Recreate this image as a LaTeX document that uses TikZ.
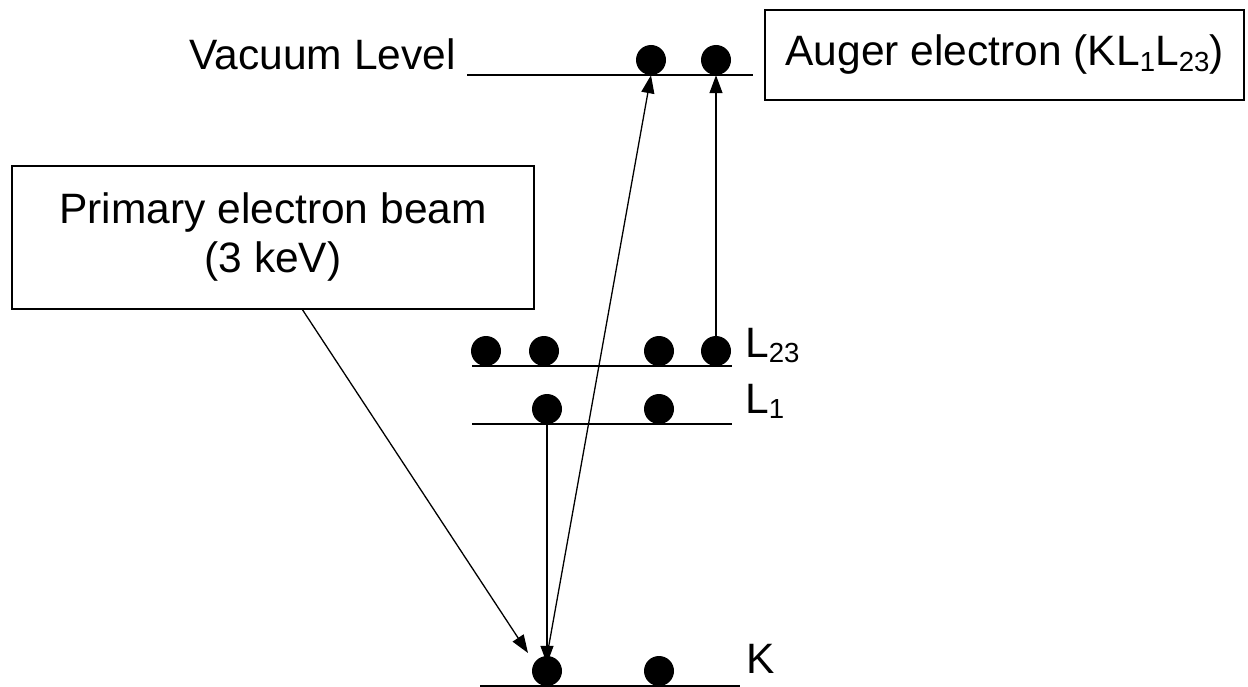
\documentclass[tikz,border=0pt]{standalone}
\usepackage{fontspec}
\setmainfont{Liberation Sans}
\usetikzlibrary{arrows.meta}
\newcommand{\subs}[1]{\raisebox{-0.12em}{\fontsize{27.6}{30}\selectfont #1}}
\tikzset{
  electron/.style={circle, fill=black, minimum size=30pt, inner sep=0pt},
  level/.style={line width=1.8pt},
  lbl/.style={inner sep=0pt, font=\fontsize{42.5}{50}\selectfont},
  textbox/.style={draw, line width=1.5pt, inner sep=0pt, align=center, font=\fontsize{42.5}{51}\selectfont},
  trans/.style={line width=1.3pt, -{Triangle[length=18pt,width=13pt]}},
}
\begin{document}
\begin{tikzpicture}[x=1pt,y=-1pt]
\useasboundingbox (0,0) rectangle (1248,687);
% levels
\coordinate (vacL) at (467,75); \coordinate (vacR) at (753,75);
\coordinate (l23L) at (472,366); \coordinate (l23R) at (732,366);
\coordinate (l1L) at (472,424); \coordinate (l1R) at (732,424);
\coordinate (kL) at (480,686); \coordinate (kR) at (740,686);
\draw[level] (vacL) -- (vacR);
\draw[level] (l23L) -- (l23R);
\draw[level] (l1L) -- (l1R);
\draw[level] (kL) -- (kR);
% electrons
\node[electron] (vac1) at (651,60) {};
\node[electron] (vac2) at (716,60) {};
\node[electron] (l23a) at (486,351) {};
\node[electron] (l23b) at (544,351) {};
\node[electron] (l23c) at (659,351) {};
\node[electron] (l23d) at (716,351) {};
\node[electron] (l1a) at (547,409) {};
\node[electron] (l1b) at (659,409) {};
\node[electron] (ka) at (547,671) {};
\node[electron] (kb) at (659,671) {};
% labels
\node[lbl, anchor=base east] (vaclbl) at (456,70) {Vacuum Level};
\node[lbl, anchor=base west] (l23lbl) at (745,357) {L\subs{23}};
\node[lbl, anchor=base west] (l1lbl) at (745,413) {L\subs{1}};
\node[lbl, anchor=base west] (klbl) at (746,673) {K};
% boxes
\node[textbox, minimum width=522pt, minimum height=143pt] (prim) at (273,237.5) {\raisebox{-2pt}{Primary electron beam}\\(3 keV)};
\node[textbox, minimum width=479pt, minimum height=90pt] (auger) at (1004.5,55) {\raisebox{-2pt}{Auger electron (KL\subs{1}L\subs{23})}};
% transitions
\coordinate (pstart) at (302,309);
\coordinate (ptip) at (528,653);
\draw[trans] (pstart) -- (ptip);
\draw[trans] (l1a.south) -- ([yshift=-8pt]ka.north);
\draw[trans] (ka.north) -- (vac1.south);
\draw[trans] (l23d.north) -- (vac2.south);
\end{tikzpicture}
\end{document}
